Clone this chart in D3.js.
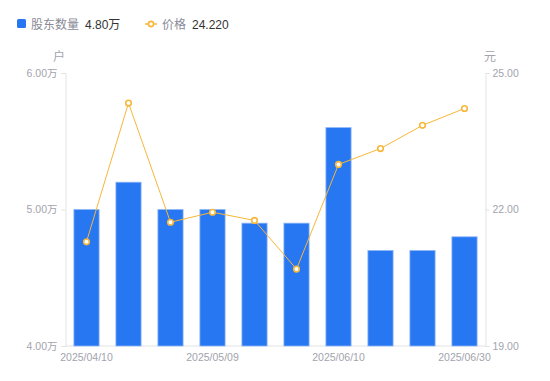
<!DOCTYPE html>
<html><head><meta charset="utf-8">
<script src="https://cdn.jsdelivr.net/npm/d3@7/dist/d3.min.js"></script>
<style>body{margin:0;background:#fff;font-family:"Liberation Sans","Noto Sans CJK SC",sans-serif;}</style>
</head><body><svg id="c" width="550" height="381"></svg>
<script>
const dates = ["2025/04/10","2025/04/18","2025/04/30","2025/05/09","2025/05/20","2025/05/30","2025/06/10","2025/06/16","2025/06/20","2025/06/30"];
const holders = [5.00, 5.20, 5.00, 5.00, 4.90, 4.90, 5.60, 4.70, 4.70, 4.80];
const prices = [21.29, 24.34, 21.72, 21.94, 21.76, 20.69, 22.99, 23.34, 23.85, 24.22];
const leftTicks = [4, 5, 6];
const rightTicks = [19, 22, 25];
const shownDates = ["2025/04/10","2025/05/09","2025/06/10","2025/06/30"];

const svg = d3.select("#c");
const L = 65.5, R = 485.5, T = 73, B = 346;
const x = d3.scaleBand().domain(dates).range([L, R]).paddingInner(0.4).paddingOuter(0.2);
const yL = d3.scaleLinear().domain([4, 6]).range([B, T]);
const yR = d3.scaleLinear().domain([19, 25]).range([B, T]);
const axisColor = "#e3e3e6", textColor = "#a3a3ad";
const FONT = "'Liberation Sans','Noto Sans CJK SC',sans-serif";

// axes
const gl = svg.append("g").attr("transform", `translate(${L},0)`)
  .call(d3.axisLeft(yL).tickValues(leftTicks).tickSize(4).tickPadding(4).tickFormat(d => d.toFixed(2) + "万"));
const gr = svg.append("g").attr("transform", `translate(${R},0)`)
  .call(d3.axisRight(yR).tickValues(rightTicks).tickSize(4).tickPadding(3).tickFormat(d => d.toFixed(2)));
const gb = svg.append("g").attr("transform", `translate(0,${B})`)
  .call(d3.axisBottom(x).tickValues(shownDates).tickSize(0).tickPadding(8));
[gl, gr, gb].forEach(g => {
  g.selectAll(".domain").attr("stroke", axisColor);
  g.selectAll(".tick line").attr("stroke", axisColor);
  g.selectAll("text").attr("fill", textColor).style("font-size", "10.5px").style("font-family", FONT);
});
gb.select(".domain").attr("d", `M${L},0H${R}`);

svg.append("text").attr("x", 59).attr("y", 61).attr("text-anchor", "middle").attr("fill", textColor)
  .style("font-size", "12px").style("font-family", FONT).text("户");
svg.append("text").attr("x", 490).attr("y", 61).attr("text-anchor", "middle").attr("fill", textColor)
  .style("font-size", "12px").style("font-family", FONT).text("元");

// bars
svg.append("g").selectAll("rect").data(dates).join("rect")
  .attr("x", d => x(d)).attr("width", x.bandwidth())
  .attr("y", (d, i) => yL(holders[i])).attr("height", (d, i) => B - yL(holders[i]))
  .attr("fill", "#2776f2").attr("stroke", "#8fb8f8").attr("stroke-width", 0.8);

// line
const line = d3.line().x((d, i) => x(dates[i]) + x.bandwidth() / 2).y(d => yR(d));
svg.append("path").datum(prices).attr("d", line).attr("fill", "none")
  .attr("stroke", "#f7b739").attr("stroke-width", 1);
svg.append("g").selectAll("circle").data(prices).join("circle")
  .attr("cx", (d, i) => x(dates[i]) + x.bandwidth() / 2).attr("cy", d => yR(d))
  .attr("r", 2.8).attr("fill", "#fff").attr("stroke", "#f7b739").attr("stroke-width", 1.6);

// legend
const lg = svg.append("g").style("font-family", FONT).style("font-size", "12px");
lg.append("rect").attr("x", 17).attr("y", 19).attr("width", 9).attr("height", 9).attr("rx", 1.5).attr("fill", "#2776f2");
lg.append("text").attr("x", 31).attr("y", 28.5).attr("fill", "#8a8a96").text("股东数量");
lg.append("text").attr("x", 85).attr("y", 28.5).attr("fill", "#333").text(d3.format(".2f")(holders[holders.length-1]) + "万");
lg.append("line").attr("x1", 145).attr("x2", 157).attr("y1", 24).attr("y2", 24).attr("stroke", "#f7b739").attr("stroke-width", 1.5);
lg.append("circle").attr("cx", 151).attr("cy", 24).attr("r", 2.6).attr("fill", "#fff").attr("stroke", "#f7b739").attr("stroke-width", 1.6);
lg.append("text").attr("x", 162).attr("y", 28.5).attr("fill", "#8a8a96").text("价格");
lg.append("text").attr("x", 192).attr("y", 28.5).attr("fill", "#333").text(d3.format(".3f")(prices[prices.length-1]));
</script></body></html>
